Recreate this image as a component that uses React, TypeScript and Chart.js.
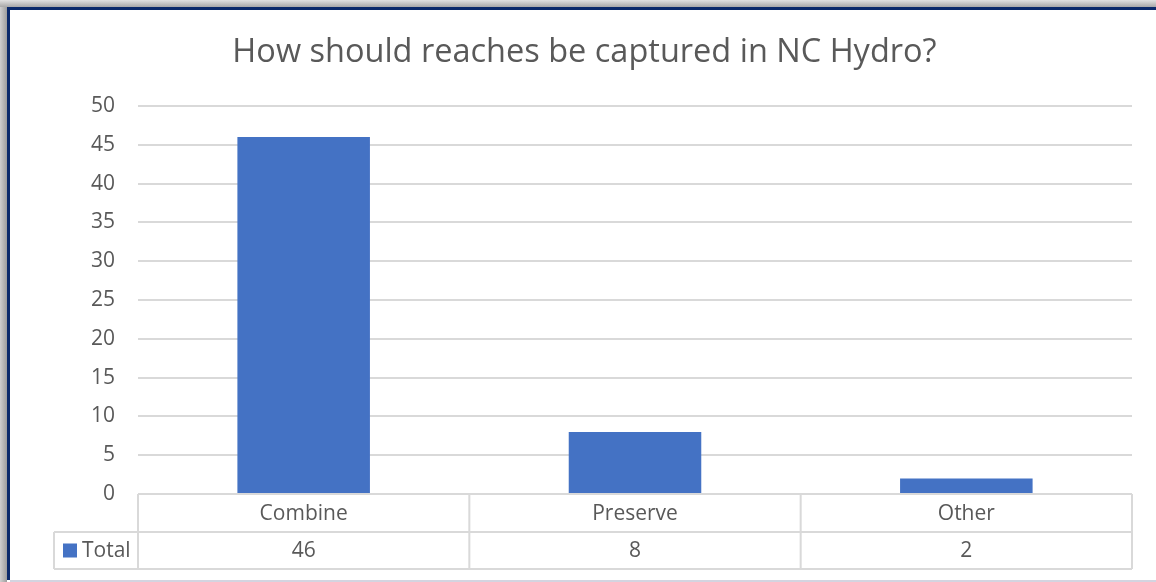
import React, { useEffect, useRef } from "react";
import { Chart, registerables } from "chart.js";

Chart.register(...registerables);

const categories: string[] = ["Combine", "Preserve", "Other"];
const totals: number[] = [46, 8, 2];
const seriesName = "Total";
const chartTitle = "How should reaches be captured in NC Hydro?";
const yMax = 50;
const yStep = 5;

const FONT = "'Open Sans', 'Noto Sans', sans-serif";
const TEXT = "#595959";
const GRID = "#d9d9d9";
const BAR = "#4472c4";

const dataTablePlugin = {
  id: "dataTable",
  afterDraw(chart: any) {
    const ctx = chart.ctx;
    const x = chart.scales.x;
    const area = chart.chartArea;
    const top = area.bottom;
    const row1 = top + 38;
    const row2 = row1 + 37;
    const headerLeft = area.left - 84;
    const n = categories.length;
    const step = (x.right - x.left) / n;
    ctx.save();
    ctx.strokeStyle = GRID;
    ctx.lineWidth = 2;
    ctx.beginPath();
    ctx.moveTo(x.left, top);
    ctx.lineTo(x.right, top);
    ctx.moveTo(headerLeft, row1);
    ctx.lineTo(x.right, row1);
    ctx.moveTo(headerLeft, row2);
    ctx.lineTo(x.right, row2);
    ctx.moveTo(headerLeft, row1);
    ctx.lineTo(headerLeft, row2);
    for (let i = 0; i <= n; i++) {
      const xx = x.left + step * i;
      ctx.moveTo(xx, top);
      ctx.lineTo(xx, row2);
    }
    ctx.stroke();

    ctx.fillStyle = TEXT;
    ctx.font = `21px ${FONT}`;
    ctx.textAlign = "center";
    ctx.textBaseline = "middle";
    categories.forEach((c, i) => {
      const cx = x.getPixelForValue(i);
      ctx.fillText(c, cx, (top + row1) / 2 + 1);
      ctx.fillText(String(totals[i]), cx, (row1 + row2) / 2 + 1);
    });
    // legend key
    ctx.fillStyle = BAR;
    const my = (row1 + row2) / 2;
    ctx.fillRect(headerLeft + 9, my - 7, 14, 14);
    ctx.fillStyle = TEXT;
    ctx.textAlign = "left";
    ctx.fillText(seriesName, headerLeft + 28, my + 1);
    ctx.restore();
  },
};

export default function App() {
  const ref = useRef<HTMLCanvasElement | null>(null);
  useEffect(() => {
    if (!ref.current) return;
    const chart = new Chart(ref.current, {
      type: "bar",
      data: {
        labels: categories,
        datasets: [
          {
            label: seriesName,
            data: totals,
            backgroundColor: BAR,
            borderWidth: 0,
            barPercentage: 0.4,
            categoryPercentage: 1,
          },
        ],
      },
      options: {
        responsive: false,
        animation: false,
        maintainAspectRatio: false,
        layout: { padding: { left: 37, right: 24, top: 0, bottom: 88 } },
        plugins: {
          legend: { display: false },
          tooltip: { enabled: false },
          title: {
            display: true,
            text: chartTitle,
            color: TEXT,
            font: { family: FONT, size: 32.5, weight: "normal" },
            padding: { top: 33, bottom: 34 },
          },
        },
        scales: {
          x: {
            ticks: { display: false },
            grid: { display: false, drawTicks: false },
            border: { display: false },
          },
          y: {
            min: 0,
            max: yMax,
            ticks: {
              stepSize: yStep,
              color: TEXT,
              font: { family: FONT, size: 21 },
              padding: 23,
            },
            grid: { color: GRID, lineWidth: 2, drawTicks: false },
            border: { display: false },
            afterFit: (s: any) => {
              s.width = 101;
            },
          },
        },
      },
      plugins: [dataTablePlugin],
    });
    return () => chart.destroy();
  }, []);

  return (
    <div style={{ position: "absolute", left: 0, top: 0, width: 1156, height: 582, background: "#fff", overflow: "hidden" }}>
      <div style={{ position: "absolute", left: 0, top: 0, width: 7, height: 582, background: "linear-gradient(to right, #cfcfcf, #9d9d9d)" }} />
      <div style={{ position: "absolute", left: 0, top: 0, width: 1156, height: 7, background: "linear-gradient(to bottom, #e2e2e2, #a8a8a8)" }} />
      <div style={{ position: "absolute", left: 7, top: 7, width: 1149, height: 573, borderTop: "3px solid #0b2a6b", borderLeft: "3px solid #0b2a6b", boxSizing: "border-box" }} />
      <div style={{ position: "absolute", left: 10, top: 580, width: 1146, height: 2, background: "#d4d4e0" }} />
      <canvas ref={ref} width={1156} height={582} style={{ position: "absolute", left: 0, top: 0, width: 1156, height: 582 }} />
    </div>
  );
}
